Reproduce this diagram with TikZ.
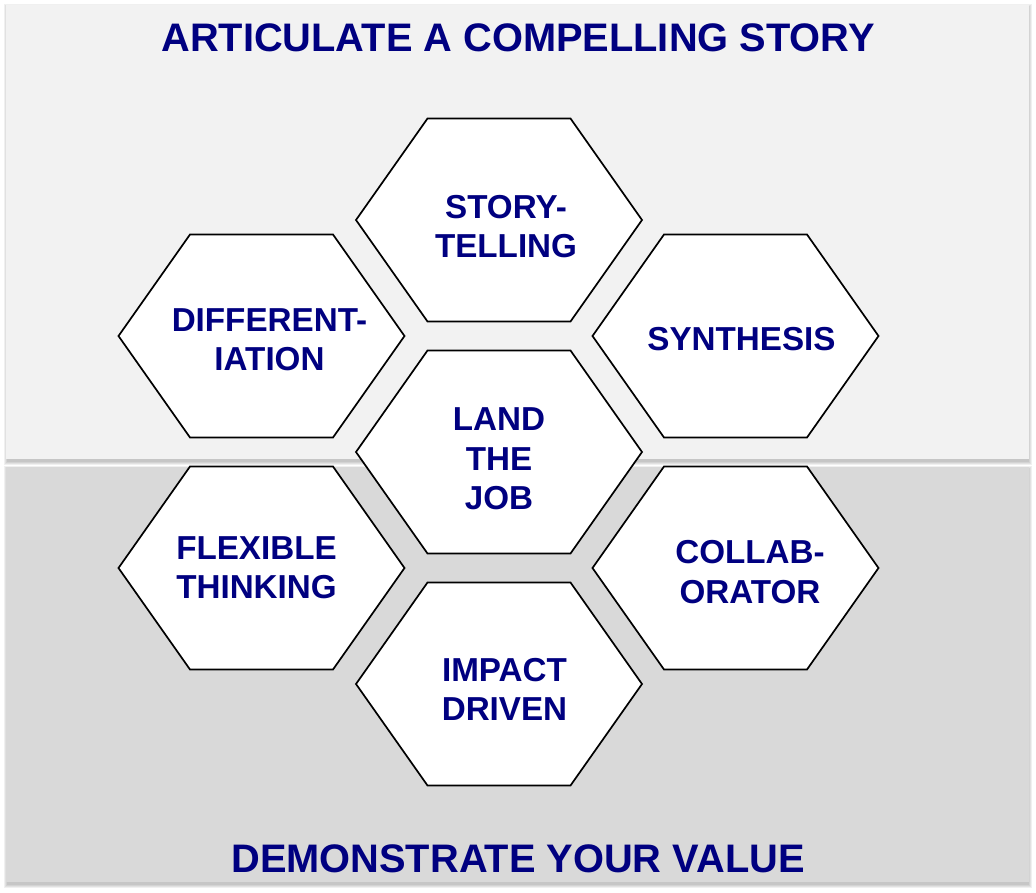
\documentclass[tikz,border=0pt]{standalone}
\usepackage{fontspec}
\setmainfont{Liberation Sans}
\definecolor{navytext}{RGB}{0,0,128}
\definecolor{panellight}{RGB}{242,242,242}
\definecolor{paneldark}{RGB}{217,217,217}

% flat-topped hexagon centred on (#1,#2)
\newcommand\hexcell[2]{%
  \draw[hexline] (#1-143,#2) -- (#1-71.5,#2-101.5) -- (#1+71.5,#2-101.5)
    -- (#1+143,#2) -- (#1+71.5,#2+101.5) -- (#1-71.5,#2+101.5) -- cycle;}

% panel with a soft shadow underneath
\newcommand\shadedpanel[5]{%
  \foreach \d in {0,1,2,3}
    \fill[black,opacity=0.06] (#1-\d+1,#2+2-\d) rectangle (#3+\d,#4+3+\d);
  \fill[#5] (#1,#2) rectangle (#3,#4);}

\begin{document}
\begin{tikzpicture}[x=1pt,y=-1pt,
  hexline/.style={draw=black,line width=1.7pt,fill=white,line join=miter},
  hexlabel/.style={text=navytext,font=\bfseries\fontsize{33.2}{39.5}\selectfont,
    align=center,inner sep=0pt},
  heading/.style={text=navytext,font=\bfseries\fontsize{39.8}{47}\selectfont,
    inner sep=0pt}]
\useasboundingbox (0,0) rectangle (1036,893);
\fill[white] (0,0) rectangle (1036,893);

% background panels
\shadedpanel{6}{5}{1029}{459}{panellight}
\shadedpanel{6}{467}{1029}{882}{paneldark}

% honeycomb
\hexcell{499}{220}
\hexcell{261.5}{336}
\hexcell{735.5}{336}
\hexcell{499}{452}
\hexcell{261.5}{568}
\hexcell{735.5}{568}
\hexcell{499}{684}

% labels
\node[heading] (story) at (518,38) {ARTICULATE A COMPELLING STORY};
\node[heading] (value) at (518,859) {DEMONSTRATE YOUR VALUE};

\node[hexlabel] (storytelling) at (506,226.5) {STORY-\\TELLING};
\node[hexlabel] (differentiation) at (269.5,339.5) {DIFFERENT-\\IATION};
\node[hexlabel] (synthesis) at (741.5,339.5) {SYNTHESIS};
\node[hexlabel] (land) at (499,459) {LAND\\THE\\JOB};
\node[hexlabel] (flexible) at (256.5,567.5) {FLEXIBLE\\THINKING};
\node[hexlabel] (collab) at (750,572) {COLLAB-\\ORATOR};
\node[hexlabel] (impact) at (504.5,689.5) {IMPACT\\DRIVEN};
\end{tikzpicture}
\end{document}
